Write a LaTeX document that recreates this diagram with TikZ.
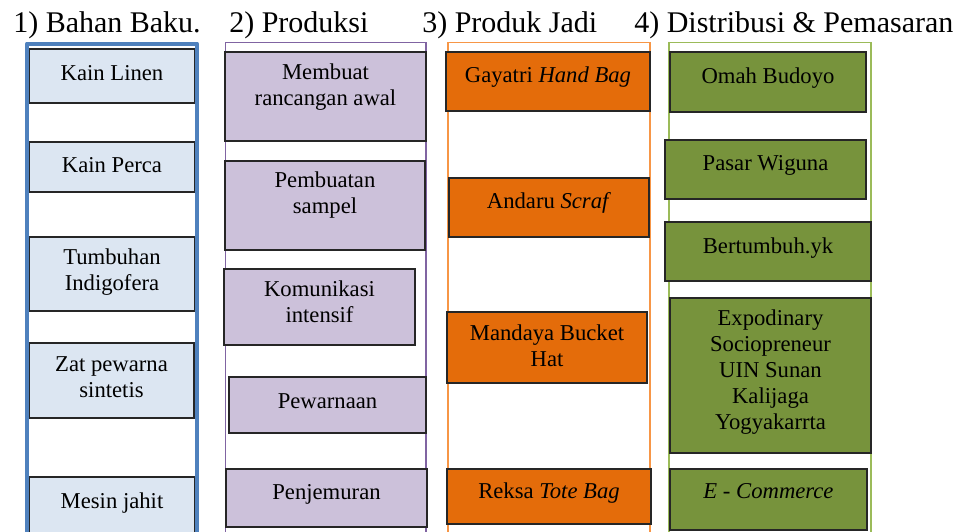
\documentclass[tikz,border=0pt]{standalone}
\usepackage{fontspec}
\setmainfont{Liberation Serif}
\usetikzlibrary{fit}
\definecolor{fillA}{HTML}{DCE6F2}
\definecolor{lineA}{HTML}{4F81BD}
\definecolor{fillB}{HTML}{CCC1DA}
\definecolor{lineB}{HTML}{8064A2}
\definecolor{fillC}{HTML}{E46C0A}
\definecolor{lineC}{HTML}{F79646}
\definecolor{fillD}{HTML}{77933C}
\definecolor{lineD}{HTML}{9BBB59}
\tikzset{
  boxbase/.style={draw=black!85, line width=0.8pt, inner sep=0pt},
  boxA/.style={boxbase, fill=fillA},
  boxB/.style={boxbase, fill=fillB},
  boxC/.style={boxbase, fill=fillC},
  boxD/.style={boxbase, fill=fillD},
  txt/.style={font=\fontsize{17}{19.5}\selectfont, align=center, inner sep=0pt, anchor=north, execute at begin node=\strut},
  head/.style={font=\fontsize{22.5}{26}\selectfont, inner sep=0pt, anchor=base west},
  colA/.style={draw=lineA, line width=3pt, line join=round},
  colB/.style={draw=lineB, line width=1.1pt},
  colC/.style={draw=lineC, line width=1.1pt},
  colD/.style={draw=lineD, line width=1.1pt},
}
\begin{document}
\begin{tikzpicture}[x=0.75pt, y=-0.75pt]
\useasboundingbox (0,0) rectangle (957,532);
\clip (0,0) rectangle (957,532);

% headers
\node[head] (h1) at (13,32) {1) Bahan Baku.};
\node[head] (h2) at (229,32) {2) Produksi};
\node[head] (h3) at (422,32) {3) Produk Jadi};
\node[head] (h4) at (634,32) {4) Distribusi \& Pemasaran};

% column frames (2-4)
\draw[colB] (225.5,545) -- (225.5,42.5) -- (426,42.5) -- (426,545);
\draw[colC] (448,545) -- (448,42.5) -- (650,42.5) -- (650,545);
\draw[colD] (669,545) -- (669,42.5) -- (871,42.5) -- (871,545);

% column 1
\node[boxA, fit={(29,49) (195,103)}] (b11) {};
\node[boxA, fit={(29,142) (195,192)}] (b12) {};
\node[boxA, fit={(29,237) (195,311)}] (b13) {};
\node[boxA, fit={(29,343) (194,418)}] (b14) {};
\node[boxA, fit={(29,477) (195,560)}] (b15) {};
\draw[colA] (27,545) -- (27,43.5) -- (197,43.5) -- (197,545);
\node[txt] (t11) at (112,61.8) {Kain Linen};
\node[txt] (t12) at (112,153.8) {Kain Perca};
\node[txt] (t13) at (112,248.8) {Tumbuhan\\Indigofera};
\node[txt] (t14) at (111.5,356.8) {Zat pewarna\\sintetis};
\node[txt] (t15) at (112,489.8) {Mesin jahit};

% column 2
\node[boxB, fit={(225,52) (426,141)}] (b21) {};
\node[boxB, fit={(225,161) (425,250)}] (b22) {};
\node[boxB, fit={(224,269) (415,345)}] (b23) {};
\node[boxB, fit={(229,377) (426,433)}] (b24) {};
\node[boxB, fit={(226,469) (427,527)}] (b25) {};
\node[txt] (t21) at (325.5,63.8) {Membuat\\rancangan awal};
\node[txt] (t22) at (325,171.8) {Pembuatan\\sampel};
\node[txt] (t23) at (319.5,280.8) {Komunikasi\\intensif};
\node[txt] (t24) at (327.5,389.8) {Pewarnaan};
\node[txt] (t25) at (326.5,480.8) {Penjemuran};

% column 3
\node[boxC, fit={(446,52) (650,111)}] (b31) {};
\node[boxC, fit={(449,178) (649,237)}] (b32) {};
\node[boxC, fit={(447,312) (647,383)}] (b33) {};
\node[boxC, fit={(447,469) (651,524)}] (b34) {};
\node[txt] (t31) at (548,63.8) {Gayatri \textit{Hand Bag}};
\node[txt] (t32) at (549,189.8) {Andaru \textit{Scraf}};
\node[txt] (t33) at (547,324.8) {Mandaya Bucket\\Hat};
\node[txt] (t34) at (549,479.8) {Reksa \textit{Tote Bag}};

% column 4
\node[boxD, fit={(670,52) (866,112)}] (b41) {};
\node[boxD, fit={(665,140) (866,199)}] (b42) {};
\node[boxD, fit={(665,222) (871,281)}] (b43) {};
\node[boxD, fit={(670,298) (871,453)}] (b44) {};
\node[boxD, fit={(670,469) (867,530)}] (b45) {};
\node[txt] (t41) at (768,64.8) {Omah Budoyo};
\node[txt] (t42) at (765.5,151.8) {Pasar Wiguna};
\node[txt] (t43) at (768,234.8) {Bertumbuh.yk};
\node[txt] (t44) at (770.5,309.8) {Expodinary\\Sociopreneur\\UIN Sunan\\Kalijaga\\Yogyakarrta};
\node[txt] (t45) at (768.5,479.8) {\textit{E - Commerce}};
\end{tikzpicture}
\end{document}
